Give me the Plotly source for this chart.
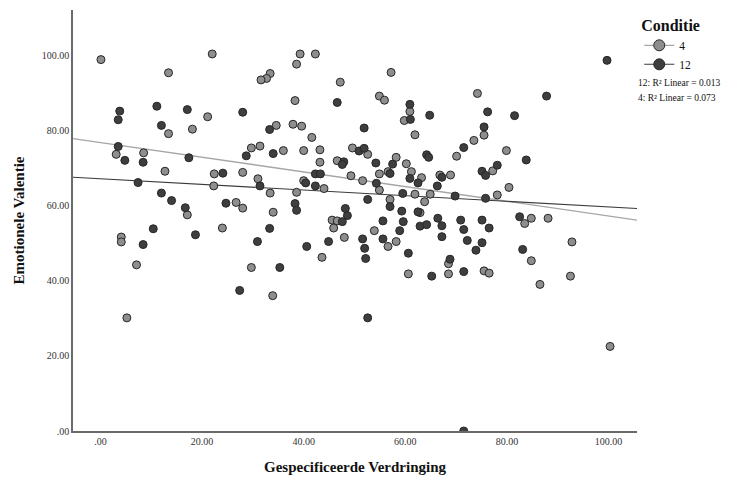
import plotly.graph_objects as go

# Condition 4 (light gray markers)
c4_x = [0.1, 22.0, 13.4, 21.1, 13.4, 18.1, 3.1, 8.5, 29.7, 31.4, 12.7, 22.4, 28.0, 31.0,
        39.3, 42.3, 38.6, 33.4, 32.7, 31.6, 47.2, 57.2, 38.3, 54.9, 55.9, 60.9, 59.8, 61.9,
        34.6, 37.9, 39.6, 41.6, 36.0, 40.0, 43.2, 43.2, 49.6, 52.6, 58.2, 60.2, 46.6, 49.3,
        54.9, 56.6, 61.2, 63.2, 66.8, 68.9, 74.2, 75.5, 73.5, 70.1, 79.9, 77.2, 22.3, 17.1,
        26.7, 28.0, 4.1, 4.1, 24.0, 7.1, 29.7, 5.2, 33.4, 34.0, 33.9, 40.0, 44.0, 38.6,
        45.6, 46.6, 45.9, 48.0, 43.6, 51.6, 54.9, 57.0, 53.9, 56.6, 58.2, 60.6, 61.9, 63.8,
        64.9, 62.9, 78.1, 80.4, 68.5, 68.5, 75.5, 76.5, 83.5, 84.8, 88.1, 84.8, 86.5, 92.8,
        92.5, 100.3]
c4_y = [98.8, 100.3, 95.3, 83.6, 79.1, 80.3, 73.6, 74.0, 75.3, 75.8, 69.1, 68.4, 68.8, 67.1,
        100.3, 100.3, 97.6, 95.1, 93.8, 93.4, 92.8, 95.4, 87.9, 89.1, 88.0, 85.0, 82.6, 78.8,
        81.3, 81.6, 81.1, 78.1, 74.6, 74.6, 74.8, 71.5, 75.3, 73.6, 72.8, 71.1, 71.9, 67.9,
        68.4, 69.0, 69.0, 67.4, 68.1, 68.1, 89.8, 78.7, 77.3, 73.1, 74.6, 69.2, 65.2, 57.5,
        60.8, 59.3, 51.6, 50.3, 54.0, 44.2, 43.5, 30.1, 63.3, 58.2, 36.0, 66.6, 64.5, 63.5,
        56.1, 55.9, 54.0, 51.5, 46.2, 66.6, 64.1, 61.6, 53.3, 49.1, 50.4, 41.8, 63.0, 61.0,
        63.0, 58.1, 62.8, 64.8, 44.5, 41.8, 42.6, 42.0, 55.2, 56.6, 56.6, 45.3, 39.0, 50.3,
        41.2, 22.5]

# Condition 12 (dark markers)
c12_x = [3.8, 3.5, 11.1, 17.1, 12.0, 28.0, 3.5, 4.8, 8.4, 17.4, 28.7, 24.1, 46.6, 60.9,
         61.0, 64.8, 33.3, 51.9, 34.0, 50.9, 51.9, 54.2, 57.5, 64.2, 64.6, 47.9, 47.6, 42.3,
         43.3, 57.0, 99.7, 87.8, 76.2, 81.5, 75.5, 71.5, 83.8, 78.1, 75.1, 75.8, 67.2, 31.4,
         7.4, 12.0, 14.0, 16.7, 24.7, 10.4, 8.4, 18.7, 30.9, 27.4, 33.3, 35.3, 40.4, 42.3,
         38.3, 38.6, 40.6, 48.2, 48.6, 47.6, 44.9, 54.3, 52.6, 57.0, 55.6, 51.6, 52.0, 52.2,
         52.6, 55.6, 59.5, 59.3, 59.6, 58.9, 60.6, 65.2, 62.5, 62.9, 64.2, 66.4, 67.2, 67.2,
         60.9, 62.5, 66.3, 69.8, 75.8, 70.9, 71.5, 72.2, 73.9, 75.1, 76.5, 75.1, 68.8, 71.5,
         82.5, 83.1, 71.5]
c12_y = [85.1, 82.8, 86.4, 85.5, 81.3, 84.8, 75.7, 72.0, 71.5, 72.7, 73.2, 68.6, 87.4, 86.9,
         82.9, 84.0, 80.2, 80.6, 73.8, 74.5, 75.2, 71.3, 71.0, 73.5, 72.8, 71.6, 70.9, 68.4,
         68.4, 68.5, 98.6, 89.1, 84.9, 83.9, 80.9, 75.4, 72.1, 70.7, 69.1, 68.0, 67.5, 65.2,
         66.1, 63.3, 61.3, 59.4, 60.6, 53.8, 49.6, 52.2, 50.4, 37.4, 53.9, 43.5, 66.0, 65.2,
         60.5, 58.7, 49.1, 59.2, 57.3, 55.7, 50.4, 65.9, 61.6, 59.7, 55.9, 51.1, 48.6, 45.9,
         30.1, 51.1, 63.2, 58.5, 55.7, 53.3, 47.3, 41.2, 58.3, 54.5, 54.9, 56.6, 54.6, 51.7,
         67.2, 66.0, 65.2, 62.5, 61.9, 56.1, 53.6, 50.7, 48.1, 56.1, 54.0, 50.1, 45.7, 42.4,
         57.0, 48.3, 0.0]

# Linear fit lines (read at the plot's x extent)
fit_x = [-5.4, 105.6]
fit4_y = [77.8, 56.1]
fit12_y = [67.5, 59.2]

x_ticks = [0, 20, 40, 60, 80, 100]
x_tick_labels = [".00", "20.00", "40.00", "60.00", "80.00", "100.00"]
y_ticks = [0, 20, 40, 60, 80, 100]
y_tick_labels = [".00", "20.00", "40.00", "60.00", "80.00", "100.00"]

r2_labels = ["12: R\u00b2 Linear = 0.013", "4: R\u00b2 Linear = 0.073"]

SERIF = "Liberation Serif, Times New Roman, serif"
GRAY_FILL = "#8e8e8e"
DARK_FILL = "#3e3e3e"
OUTLINE = "#262626"

fig = go.Figure()

fig.add_trace(go.Scatter(x=fit_x, y=fit4_y, mode="lines",
                         line=dict(color="#a6a6a6", width=1.3),
                         showlegend=False, hoverinfo="skip"))
fig.add_trace(go.Scatter(x=fit_x, y=fit12_y, mode="lines",
                         line=dict(color="#3a3a3a", width=1.1),
                         showlegend=False, hoverinfo="skip"))

fig.add_trace(go.Scatter(x=c4_x, y=c4_y, mode="markers",
                         marker=dict(size=8, color=GRAY_FILL,
                                     line=dict(color=OUTLINE, width=1)),
                         showlegend=False))
fig.add_trace(go.Scatter(x=c12_x, y=c12_y, mode="markers",
                         marker=dict(size=8, color=DARK_FILL,
                                     line=dict(color=OUTLINE, width=1)),
                         showlegend=False))

# legend entries
fig.add_trace(go.Scatter(x=[None], y=[None], mode="lines+markers", name="4",
                         marker=dict(size=11, color=GRAY_FILL, line=dict(color=OUTLINE, width=1)),
                         line=dict(color="#a6a6a6", width=1.3)))
fig.add_trace(go.Scatter(x=[None], y=[None], mode="lines+markers", name="12",
                         marker=dict(size=11, color=DARK_FILL, line=dict(color=OUTLINE, width=1)),
                         line=dict(color="#3a3a3a", width=1.1)))

annotations = []
for i, t in enumerate(r2_labels):
    annotations.append(dict(text=t, xref="paper", yref="paper",
                            x=0.998, y=0.827 - i * 0.035, xanchor="left", yanchor="middle",
                            showarrow=False, font=dict(family=SERIF, size=9.5, color="#111")))

# The page body has an 8px margin, so the figure is sized/offset to compensate.
fig.update_layout(
    width=729, height=471,
    margin=dict(l=65, r=100, t=2, b=48),
    paper_bgcolor="white", plot_bgcolor="white",
    font=dict(family=SERIF, color="#222"),
    xaxis=dict(range=[-5.4, 105.6], tickvals=x_ticks, ticktext=x_tick_labels,
               showgrid=False, zeroline=False, showline=True, linecolor="#6a6a6a",
               linewidth=1.5, ticks="", tickfont=dict(family=SERIF, size=10, color="#333"),
               title=dict(text="<b>Gespecificeerde Verdringing</b>",
                          font=dict(family=SERIF, size=15, color="#111"), standoff=16)),
    yaxis=dict(range=[0, 112], tickvals=y_ticks, ticktext=y_tick_labels,
               showgrid=False, zeroline=False, showline=True, linecolor="#6a6a6a",
               linewidth=1.5, ticks="", tickfont=dict(family=SERIF, size=10, color="#333"),
               title=dict(text="<b>Emotionele Valentie</b>",
                          font=dict(family=SERIF, size=15, color="#111"), standoff=14)),
    legend=dict(x=1.004, y=1.0, xanchor="left", yanchor="top",
                title=dict(text="<b>Conditie</b>", font=dict(family=SERIF, size=16, color="#111"),
                           side="top"),
                font=dict(family=SERIF, size=11.5, color="#111"),
                bgcolor="rgba(0,0,0,0)", itemwidth=30, tracegroupgap=0),
    annotations=annotations,
)

fig.write_html("out.html")
